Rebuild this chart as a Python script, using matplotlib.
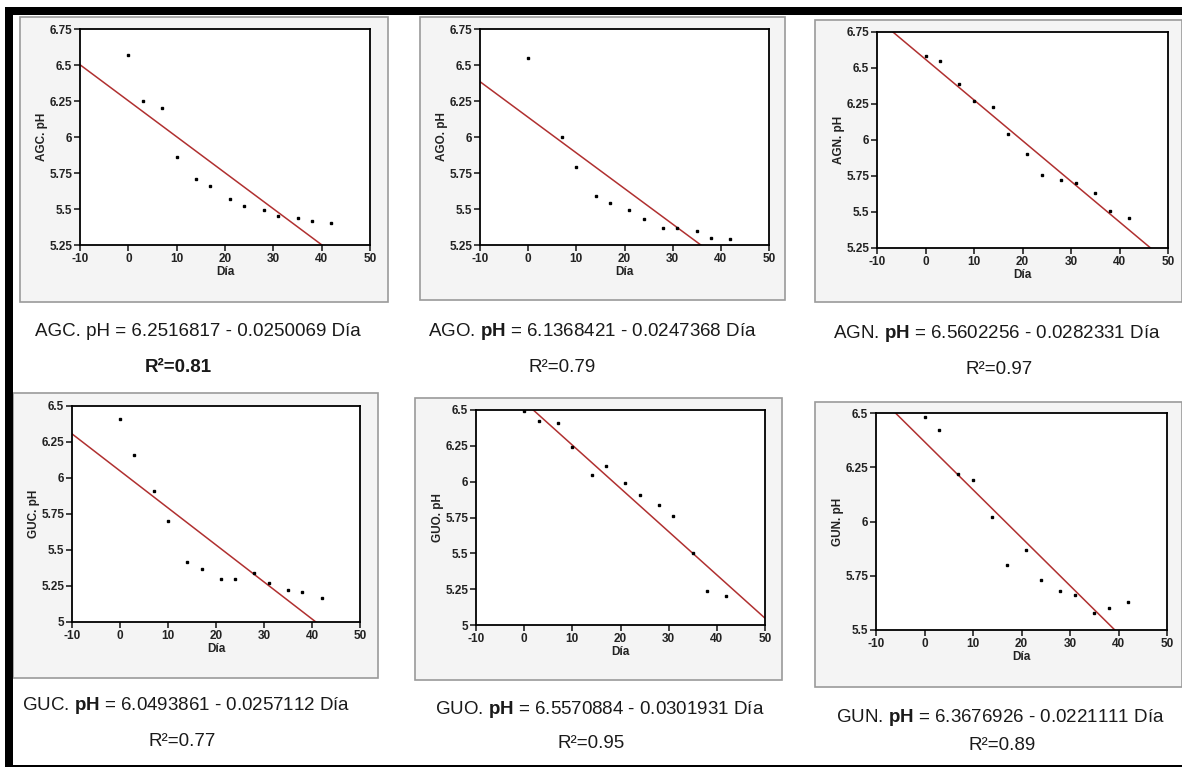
import numpy as np
import matplotlib
matplotlib.use('Agg')
import matplotlib.pyplot as plt
from matplotlib.patches import Rectangle
from matplotlib.ticker import FuncFormatter

plt.rcParams['font.family'] = ['Liberation Sans', 'DejaVu Sans']
plt.rcParams['mathtext.fontset'] = 'custom'
plt.rcParams['mathtext.rm'] = 'Liberation Sans'
plt.rcParams['mathtext.bf'] = 'Liberation Sans:bold'
plt.rcParams['axes.unicode_minus'] = False

# sampling days
dias = [0, 3, 7, 10, 14, 17, 21, 24, 28, 31, 35, 38, 42]
dias_ago = [0, 7, 10, 14, 17, 21, 24, 28, 31, 35, 38, 42]

# pH readings
agc_ph = [6.57, 6.25, 6.20, 5.86, 5.71, 5.66, 5.57, 5.52, 5.49, 5.45, 5.44, 5.42, 5.40]
ago_ph = [6.55, 6.00, 5.79, 5.59, 5.54, 5.49, 5.43, 5.37, 5.37, 5.35, 5.30, 5.29]
agn_ph = [6.58, 6.55, 6.39, 6.27, 6.23, 6.04, 5.90, 5.76, 5.72, 5.70, 5.63, 5.51, 5.46]
guc_ph = [6.41, 6.16, 5.91, 5.70, 5.42, 5.37, 5.30, 5.30, 5.34, 5.27, 5.22, 5.21, 5.17]
guo_ph = [6.49, 6.42, 6.41, 6.24, 6.05, 6.11, 5.99, 5.91, 5.84, 5.76, 5.50, 5.24, 5.20]
gun_ph = [6.48, 6.42, 6.22, 6.19, 6.02, 5.80, 5.87, 5.73, 5.68, 5.66, 5.58, 5.60, 5.63]

# fitted lines (intercept, slope)
agc_fit = (6.2516817, -0.0250069)
ago_fit = (6.1368421, -0.0247368)
agn_fit = (6.5602256, -0.0282331)
guc_fit = (6.0493861, -0.0257112)
guo_fit = (6.5570884, -0.0301931)
gun_fit = (6.3676926, -0.0221111)

names = ['AGC', 'AGO', 'AGN', 'GUC', 'GUO', 'GUN']
r2 = ['0.81', '0.79', '0.97', '0.77', '0.95', '0.89']
eq_texts = [
    r'AGC. pH = 6.2516817 - 0.0250069 Día',
    r'AGO. $\mathbf{pH}$ = 6.1368421 - 0.0247368 Día',
    r'AGN. $\mathbf{pH}$ = 6.5602256 - 0.0282331 Día',
    r'GUC. $\mathbf{pH}$ = 6.0493861 - 0.0257112 Día',
    r'GUO. $\mathbf{pH}$ = 6.5570884 - 0.0301931 Día',
    r'GUN. $\mathbf{pH}$ = 6.3676926 - 0.0221111 Día',
]

W, H = 1182, 767
fig = plt.figure(figsize=(W / 100, H / 100), dpi=100)
fig.patch.set_facecolor('white')


def px_rect(l, t, r, b):
    return [l / W, 1 - b / H, (r - l) / W, (b - t) / H]


# outer black border (left and top thick, bottom thin)
fig.patches.append(Rectangle((5 / W, 0), 8 / W, 1 - 7 / H, transform=fig.transFigure,
                             facecolor='black', edgecolor='none', zorder=5))
fig.patches.append(Rectangle((5 / W, 1 - 15 / H), 1 - 5 / W, 8 / H, transform=fig.transFigure,
                             facecolor='black', edgecolor='none', zorder=5))
fig.patches.append(Rectangle((5 / W, 0), 1 - 5 / W, 2 / H, transform=fig.transFigure,
                             facecolor='black', edgecolor='none', zorder=5))

panels = [
    # x, y, fit, ylim, yticks, axes px, frame px, eq pos, r2 pos
    (dias, agc_ph, agc_fit, (5.25, 6.75), [5.25, 5.5, 5.75, 6, 6.25, 6.5, 6.75],
     (80, 29, 370, 245), (20, 17, 388, 302), (198, 332), (178, 367)),
    (dias_ago, ago_ph, ago_fit, (5.25, 6.75), [5.25, 5.5, 5.75, 6, 6.25, 6.5, 6.75],
     (480, 29, 769, 245), (420, 17, 785, 300), (592, 332), (562, 368)),
    (dias, agn_ph, agn_fit, (5.25, 6.75), [5.25, 5.5, 5.75, 6, 6.25, 6.5, 6.75],
     (877, 32, 1168, 248), (815, 20, 1182, 302), (997, 333), (999, 370)),
    (dias, guc_ph, guc_fit, (5.0, 6.5), [5, 5.25, 5.5, 5.75, 6, 6.25, 6.5],
     (72, 406, 360, 622), (13, 393, 378, 678), (186, 705), (182, 742)),
    (dias, guo_ph, guo_fit, (5.0, 6.5), [5, 5.25, 5.5, 5.75, 6, 6.25, 6.5],
     (476, 410, 765, 625), (415, 398, 782, 680), (600, 710), (591, 743)),
    (dias, gun_ph, gun_fit, (5.5, 6.5), [5.5, 5.75, 6, 6.25, 6.5],
     (876, 413, 1167, 630), (815, 402, 1182, 687), (1000, 717), (1002, 745)),
]

xline = np.array([-10, 50])
for i, (x, y, fit, ylim, yt, ax_px, fr_px, eq_pos, r2_pos) in enumerate(panels):
    # gray window frame behind each plot
    fl, ft, fr, fb = fr_px
    fig.patches.append(Rectangle((fl / W, 1 - fb / H), (fr - fl) / W, (fb - ft) / H,
                                 transform=fig.transFigure, facecolor='#f4f4f4',
                                 edgecolor='#9a9a9a', linewidth=1.2, zorder=-1))

    ax = fig.add_axes(px_rect(*ax_px))
    ax.plot(xline, fit[0] + fit[1] * xline, color='#b03030', linewidth=1.1)
    ax.plot(x, y, 's', color='black', markersize=2)
    ax.set_xlim(-10, 50)
    ax.set_ylim(*ylim)
    ax.set_xticks(range(-10, 51, 10))
    ax.set_yticks(yt)
    ax.yaxis.set_major_formatter(FuncFormatter(lambda v, p: '%g' % v))
    ax.tick_params(direction='out', length=4, width=1.2, labelsize=8.5, pad=1.5,
                   top=False, right=False, colors='#222222')
    for lab in ax.get_xticklabels() + ax.get_yticklabels():
        lab.set_fontweight('bold')
    for s in ax.spines.values():
        s.set_linewidth(1.3)
    ax.set_xlabel('Día', fontsize=8.5, fontweight='bold', labelpad=1, color='#222222')
    ax.set_ylabel(names[i] + '. pH', fontsize=8.5, fontweight='bold', labelpad=1,
                  color='#222222')

    fig.text(eq_pos[0] / W, 1 - eq_pos[1] / H, eq_texts[i], fontsize=13.5,
             ha='center', va='center', color='#1a1a1a')
    rw = 'bold' if i == 0 else 'normal'
    fig.text(r2_pos[0] / W, 1 - r2_pos[1] / H, 'R²=' + r2[i], fontsize=13.5,
             ha='center', va='center', color='#1a1a1a', fontweight=rw)

fig.savefig('out.png', dpi=100)
